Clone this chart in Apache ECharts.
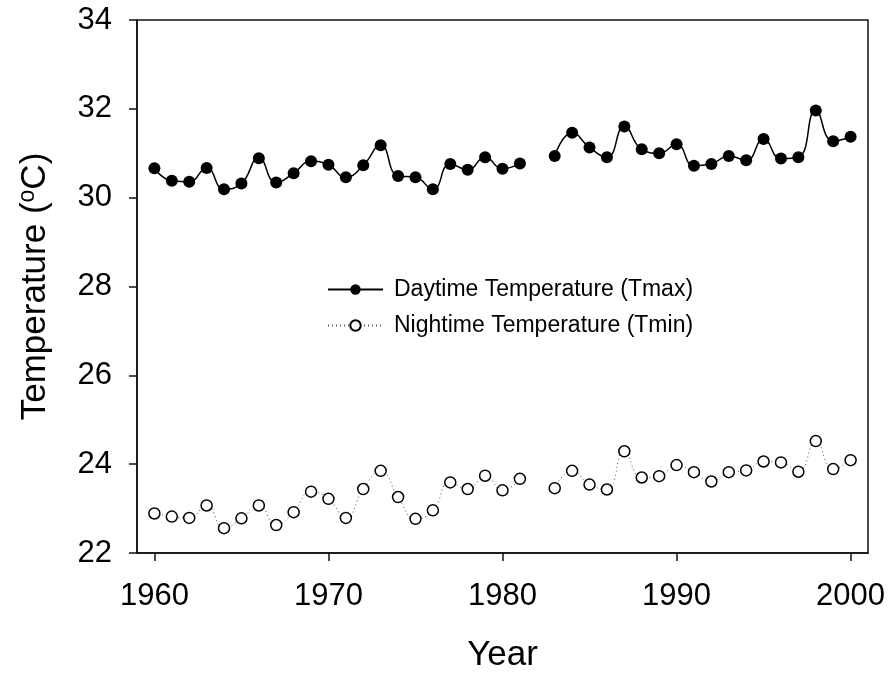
<!DOCTYPE html>
<html>
<head>
<meta charset="utf-8">
<script src="https://cdn.jsdelivr.net/npm/echarts@6/dist/echarts.min.js"></script>
<style>html,body{margin:0;padding:0;background:#fff;}#c{width:889px;height:673px;}</style>
</head>
<body>
<div id="c"></div>
<script>
const years = [1960,1961,1962,1963,1964,1965,1966,1967,1968,1969,1970,1971,1972,1973,1974,1975,1976,1977,1978,1979,1980,1981,1982,1983,1984,1985,1986,1987,1988,1989,1990,1991,1992,1993,1994,1995,1996,1997,1998,1999,2000];
const tmax = [30.66,30.38,30.36,30.67,30.19,30.32,30.89,30.34,30.55,30.82,30.74,30.46,30.73,31.18,30.49,30.46,30.19,30.76,30.63,30.91,30.65,30.77,null,30.94,31.46,31.13,30.91,31.60,31.09,31.00,31.20,30.72,30.76,30.94,30.84,31.32,30.88,30.91,31.96,31.27,31.37];
const tmin = [22.89,22.82,22.79,23.07,22.56,22.78,23.07,22.63,22.92,23.38,23.22,22.79,23.44,23.85,23.26,22.77,22.96,23.59,23.44,23.74,23.41,23.67,null,23.46,23.85,23.54,23.43,24.29,23.70,23.73,23.98,23.82,23.61,23.82,23.86,24.06,24.04,23.83,24.52,23.89,24.09];
const xTicks = [1960,1970,1980,1990,2000];
const yTicks = [22,24,26,28,30,32,34];
const seriesNames = ['Daytime Temperature (Tmax)','Nightime Temperature (Tmin)'];

const FONT = 'Liberation Sans, Arial, sans-serif';
const chart = echarts.init(document.getElementById('c'), null, {renderer:'canvas'});
const pair = (arr) => years.map((y,i) => [y, arr[i]]);

chart.setOption({
  animation: false,
  backgroundColor: '#fff',
  grid: {left: 137, right: 21, top: 20, bottom: 120, show: true, borderColor: '#111', borderWidth: 1.5, backgroundColor: 'transparent', outerBoundsMode: 'none', containLabel: false},
  legend: {
    orient: 'vertical', left: 322, top: 273,
    itemWidth: 55, itemHeight: 13, itemGap: 13,
    textStyle: {fontFamily: FONT, fontSize: 23, color: '#000', padding: [0,0,0,6]},
    data: seriesNames
  },
  xAxis: {
    type: 'value', min: 1959, max: 2001,
    name: 'Year', nameLocation: 'middle', nameGap: 85, nameMoveOverlap: false,
    nameTextStyle: {fontFamily: FONT, fontSize: 35, color: '#000'},
    axisLine: {show: true, lineStyle: {color: '#111', width: 1.5}},
    axisTick: {show: true, inside: false, length: 8, lineStyle: {color: '#111', width: 1.5}, customValues: xTicks},
    axisLabel: {fontFamily: FONT, fontSize: 31, color: '#000', margin: 28, customValues: xTicks, formatter: (v) => String(v)},
    splitLine: {show: false}
  },
  yAxis: {
    type: 'value', min: 22, max: 34, interval: 2,
    name: '{a|Temperature (}{s|o}{a|C)}', nameLocation: 'middle', nameGap: 82, nameRotate: 90, nameMoveOverlap: false,
    nameTextStyle: {rich: {
      a: {fontFamily: FONT, fontSize: 35, color: '#000'},
      s: {fontFamily: FONT, fontSize: 23, color: '#000', verticalAlign: 'top', padding: [0,0,16,0]}
    }},
    axisLine: {show: true, lineStyle: {color: '#111', width: 1.5}},
    axisTick: {show: true, inside: false, length: 8, lineStyle: {color: '#111', width: 1.5}},
    axisLabel: {fontFamily: FONT, fontSize: 31, color: '#000', margin: 25},
    splitLine: {show: false}
  },
  series: [
    {
      name: seriesNames[0], type: 'line', data: pair(tmax), connectNulls: false,
      smooth: 0.5, symbol: 'circle', symbolSize: 12,
      itemStyle: {color: '#000', borderColor: '#000', borderWidth: 0},
      lineStyle: {color: '#000', width: 1.5, type: 'solid'}
    },
    {
      name: seriesNames[1], type: 'line', data: pair(tmin), connectNulls: false,
      smooth: 0.5, symbol: 'circle', symbolSize: 11,
      itemStyle: {color: '#fff', borderColor: '#000', borderWidth: 1.5},
      lineStyle: {color: '#555', width: 1, type: [1,3]}
    }
  ]
});
</script>
</body>
</html>
